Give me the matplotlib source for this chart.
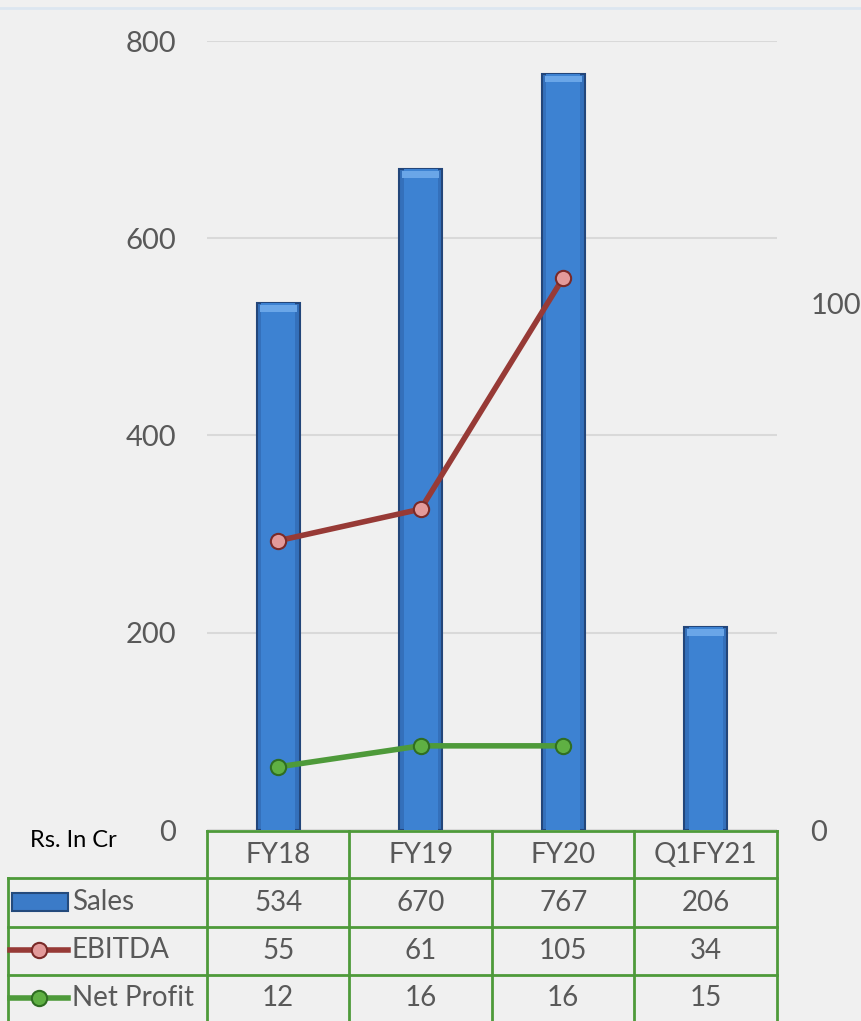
import matplotlib
matplotlib.use("Agg")
import matplotlib.pyplot as plt
import matplotlib.transforms as mtransforms
from matplotlib.patches import Rectangle

# data
periods = ["FY18", "FY19", "FY20", "Q1FY21"]
sales = [534, 670, 767, 206]
ebitda = [55, 61, 105, 34]
net_profit = [12, 16, 16, 15]
plotted_lines = 3  # lines only drawn for the full years

left_ticks = [0, 200, 400, 600, 800]
right_ticks = [0, 100]

plt.rcParams["font.family"] = ["Lato", "DejaVu Sans"]
bg = "#f0f0f0"
txt = "#595959"
grn = "#4e9a3a"
red = "#973a36"
fs = 20

fig = plt.figure(figsize=(8.62, 10.21), dpi=100, facecolor=bg)

# background / table layer in pixel coords
tab = fig.add_axes([0, 0, 1, 1])
tab.set_xlim(0, 862)
tab.set_ylim(1021, 0)
tab.axis("off")
tab.axhline(8, color="#dce6f0", lw=2)

ax = fig.add_axes([207 / 862, (1021 - 830) / 1021, 570 / 862, (830 - 41) / 1021])
ax.set_facecolor("none")
x = list(range(len(periods)))
ax.bar(x, sales, width=0.3, color="#3470bb", edgecolor="#23467a", linewidth=1.5, zorder=2)
# inner shading to mimic the bevelled bars
ax.bar(x, sales, width=0.24, color="#3d82d2", linewidth=0, zorder=2)
for xi, s in zip(x, sales):
    ax.add_patch(Rectangle((xi - 0.13, s - 9), 0.26, 7, color="#6aa6e8", lw=0, zorder=3))
ax.set_xlim(-0.5, 3.5)
ax.set_ylim(0, 800)
ax.set_yticks(left_ticks)
ax.set_xticks([])
ax.grid(axis="y", color="#d9d9d9", lw=1.5, zorder=0)
ax.tick_params(axis="y", length=0, pad=22, labelsize=fs + 1, labelcolor=txt)
for sp in ax.spines.values():
    sp.set_visible(False)

ax2 = ax.twinx()
ax2.set_ylim(0, 150)
ax2.set_yticks(right_ticks)
ax2.tick_params(axis="y", length=0, pad=24, labelsize=fs + 1, labelcolor=txt)
for sp in ax2.spines.values():
    sp.set_visible(False)
ax2.plot(x[:plotted_lines], ebitda[:plotted_lines], color=red, lw=4, marker="o",
         ms=11, mfc="#e39a9a", mec="#7a2a28", mew=1.5, zorder=4)
ax2.plot(x[:plotted_lines], net_profit[:plotted_lines], color=grn, lw=4, marker="o",
         ms=11, mfc="#5fb043", mec="#2f6e22", mew=1.5, zorder=4)

# data table under the chart
bt = mtransforms.blended_transform_factory(ax.transData, tab.transData)
row_tops = [831, 878, 927, 975, 1021]
lw = 2
tab.plot([207, 777], [row_tops[0], row_tops[0]], color=grn, lw=lw)
for yy in row_tops[1:4]:
    tab.plot([8, 777], [yy, yy], color=grn, lw=lw)
tab.plot([8, 8], [row_tops[1], 1021], color=grn, lw=lw)
for b in [-0.5, 0.5, 1.5, 2.5, 3.5]:
    tab.plot([b, b], [row_tops[0], 1021], color=grn, lw=lw, transform=bt)

for xi, p in zip(x, periods):
    tab.text(xi, 855, p, transform=bt, ha="center", va="center", fontsize=fs, color=txt)
for r, vals in enumerate([sales, ebitda, net_profit]):
    yc = (row_tops[r + 1] + row_tops[r + 2]) / 2
    for xi, v in zip(x, vals):
        tab.text(xi, yc, str(v), transform=bt, ha="center", va="center", fontsize=fs, color=txt)

# legend keys in the table
tab.add_patch(Rectangle((12, 893), 56, 18, facecolor="#3b7bc8", edgecolor="#244a7c", lw=1.5))
tab.text(72, 902, "Sales", ha="left", va="center", fontsize=fs, color=txt)
tab.plot([10, 68], [950, 950], color=red, lw=4)
tab.plot([39], [950], marker="o", ms=11, mfc="#e39a9a", mec="#7a2a28", mew=1.5)
tab.text(72, 950, "EBITDA", ha="left", va="center", fontsize=fs, color=txt)
tab.plot([10, 68], [998, 998], color=grn, lw=4)
tab.plot([39], [998], marker="o", ms=11, mfc="#5fb043", mec="#2f6e22", mew=1.5)
tab.text(72, 998, "Net Profit", ha="left", va="center", fontsize=fs, color=txt)

tab.text(30, 840, "Rs. In Cr", ha="left", va="center", fontsize=17, color="black")

fig.savefig("out.png", dpi=100, facecolor=bg)
